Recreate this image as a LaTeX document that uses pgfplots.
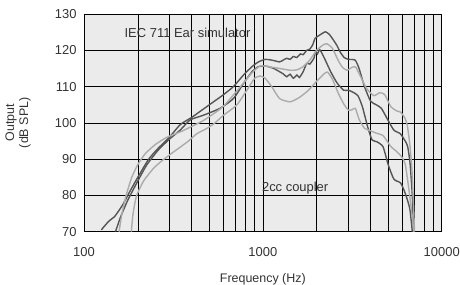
\documentclass[border=0pt]{standalone}
\usepackage{fontspec}
\setmainfont{Liberation Sans}
\usepackage{pgfplots}
\pgfplotsset{compat=1.18}
\definecolor{darkc}{HTML}{555555}
\definecolor{lightc}{HTML}{ABABAB}
\definecolor{txt}{HTML}{333333}
\begin{document}
\begin{tikzpicture}
\useasboundingbox (-84bp,-53.3bp) rectangle (376bp,231.7bp);
\begin{axis}[
  at={(0,0)}, anchor=south west,
  scale only axis, width=357.7bp, height=217.7bp,
  xmode=log, xmin=100, xmax=10000, ymin=70, ymax=130,
  xtick={100,1000,10000}, xticklabels={100,1000,10000},
  minor xtick={200,300,400,500,600,700,800,900,2000,3000,4000,5000,6000,7000,8000,9000},
  ytick={70,80,90,100,110,120,130},
  /pgf/number format/assume math mode=true,
  grid=both,
  major grid style={black, line width=0.6bp},
  minor grid style={black, line width=0.6bp},
  major tick length=0pt, minor tick length=0pt,
  axis line style={black, line width=0.7bp},
  axis background/.style={fill=black!8},
  tick label style={font=\fontsize{13}{15}\selectfont, text=txt},
  xticklabel style={yshift=-12bp},
  yticklabel style={xshift=-4bp},
  xlabel={Frequency (Hz)}, ylabel={Output\\(dB SPL)},
  label style={font=\fontsize{12.5}{14}\selectfont, text=txt},
  xlabel style={at={(axis description cs:0.5,0)}, anchor=center, yshift=-48bp},
  ylabel style={align=center, at={(axis description cs:-0.1845,0.5)}, anchor=center},
  every axis plot/.append style={line width=1.4bp, smooth, tension=0.35, mark=none},
]
% D1 dark (top)
\addplot[darkc] coordinates {(125,70.5)(137,72.8)(149,74.3)(165,77.5)(180,81)(200,85)(230,90)(260,93)(300,96)(345,99.5)(400,101.5)(450,103.3)(530,105.8)(600,107.7)(685,110)(780,113.2)(870,115.5)(945,116.8)(1030,117.5)(1120,117.3)(1240,116.8)(1300,117.3)(1360,117.8)(1420,117.5)(1480,118.3)(1550,118)(1620,119)(1680,118.8)(1760,120)(1830,120.3)(1900,121.5)(1960,123.3)(2080,124.2)(2240,125.1)(2370,124.2)(2590,121.4)(2700,119.6)(2850,118)(3010,117.5)(3280,117.3)(3450,115)(3700,110)(4000,106)(4300,105)(4600,104)(5000,100.8)(5400,98)(5870,97)(6250,95)(6450,93.5)(6650,89)(6850,80)(6950,70)};
% D2 dark (lower)
\addplot[darkc] coordinates {(150,70)(160,74)(175,78.5)(200,84)(225,88.5)(260,92.5)(300,95.5)(345,98)(392,100.8)(465,102.1)(576,104)(685,106.7)(780,110.9)(870,114.1)(945,115.5)(1050,115.6)(1150,115)(1240,114.1)(1300,113.5)(1360,112.7)(1420,113.4)(1480,112.3)(1550,113.2)(1600,112.5)(1680,114.1)(1760,116.4)(1830,116.2)(1930,117.8)(1970,119.6)(2020,119)(2080,120.2)(2200,118)(2400,114)(2600,111)(2830,109)(3010,109)(3200,108.4)(3400,107.5)(3600,104.5)(3850,99)(4080,95.3)(4340,94.8)(4700,93.4)(5020,88.5)(5400,84.5)(5870,83.5)(6150,81.5)(6410,79)(6650,76)(6850,70)};
% L1 light (upper)
\addplot[lightc] coordinates {(157,70)(163,75)(172,80)(185,85)(200,88.5)(220,91.5)(250,94)(290,96)(345,97.5)(400,99)(460,100.5)(530,102.5)(600,104.5)(680,107.5)(780,111)(870,113.8)(967,115.7)(1100,115.4)(1240,115)(1420,114.5)(1550,114.6)(1680,115.5)(1830,117.3)(2000,120)(2160,121.4)(2280,121.8)(2450,120.5)(2650,117)(2800,115.2)(2960,114.5)(3150,115.3)(3300,115.4)(3500,113)(3800,109.5)(4170,107.5)(4500,108.3)(4800,107.8)(5190,104.5)(5600,103.3)(5870,103)(6200,101.5)(6410,99.5)(6600,95)(6800,88)(6950,78)(7050,70)};
% L2 light (lower)
\addplot[lightc] coordinates {(184,70)(187,74)(191,77)(197,80)(210,83)(219,84.5)(245,87.5)(272,89.5)(309,91.6)(345,93.3)(384,95)(427,97)(488,98.5)(540,100)(603,102.1)(714,104.9)(814,109)(900,112.3)(967,112.9)(1030,112.3)(1120,110)(1240,106.7)(1420,105.8)(1600,107)(1800,109)(2000,111.5)(2200,113.5)(2300,114)(2450,112)(2650,108)(2850,105)(3010,103.5)(3150,103.6)(3290,104)(3450,101)(3700,98.5)(4000,97.8)(4340,97.1)(4700,96.5)(5190,93.5)(5630,92)(6000,90.5)(6260,88.5)(6500,83)(6670,78.7)(6850,74)(6980,70)};
\node[font=\fontsize{13}{15}\selectfont, text=txt] at (axis cs:379,124.7) {IEC 711 Ear simulator};
\node[font=\fontsize{13}{15}\selectfont, text=txt] at (axis cs:1516,82) {2cc coupler};
\end{axis}
\end{tikzpicture}
\end{document}
